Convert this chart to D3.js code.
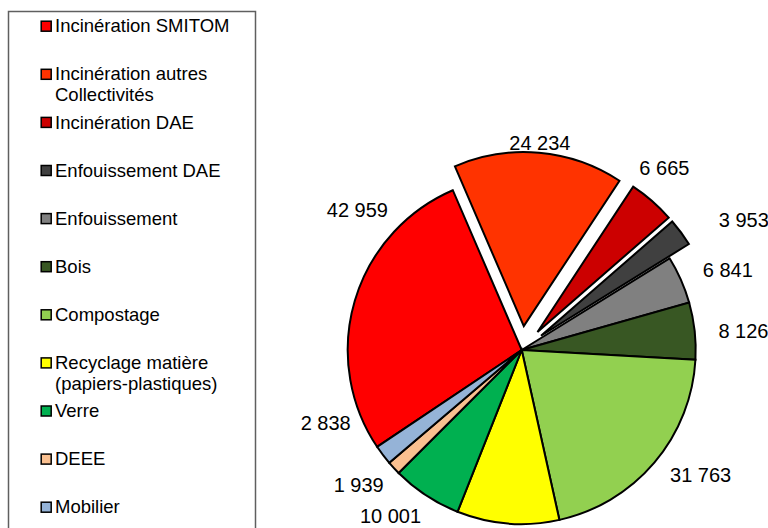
<!DOCTYPE html>
<html>
<head>
<meta charset="utf-8">
<script src="https://cdn.jsdelivr.net/npm/d3@7"></script>
<style>
	body{margin:0;background:#fff}
	text{font-family:"Liberation Sans",Arial,sans-serif;fill:#000}
</style>
</head>
<body>
<svg id="chart" width="768" height="528"></svg>
<script>
let categories = [
	'Incinération SMITOM',
	'Incinération autres\nCollectivités',
	'Incinération DAE',
	'Enfouissement DAE',
	'Enfouissement',
	'Bois',
	'Compostage',
	'Recyclage matière\n(papiers-plastiques)',
	'Verre',
	'DEEE',
	'Mobilier'
]
let values = [42959, 24234, 6665, 3953, 6841, 8126, 31763, 14600, 10001, 1939, 2838]
let colours = ['#FF0000','#FF3300','#CC0000','#404040','#808080','#385723','#92D050','#FFFF00','#00B050','#FAC090','#95B3D7']
let exploded = [1, 2, 3]

// label tweaks (degrees, px) to follow where the labels sit in the original
let labelNudge = [[24,0],[0,-4],[-3,0],[6,19],[2.5,5],[1.4,6],[-5.5,0],[0,0],[5,1],[3,0],[16.6,-7]]

let width = 768, height = 528
let cx = 521.7, cy = 350, radius = 174, explode = 24
let startDeg = 236.2

let fmt = d3.formatLocale({decimal:',', thousands:' ', grouping:[3], currency:['','']}).format(',d')

let svg = d3.select('#chart')

function drawPie(){
	let pie = d3.pie().sort(null).value(function(d){ return d })
		.startAngle(startDeg*Math.PI/180)
		.endAngle((startDeg+360)*Math.PI/180)
	let arcs = pie(values)
	let arc = d3.arc().innerRadius(0).outerRadius(radius)

	let g = svg.append('g').attr('transform','translate('+cx+','+cy+')')

	g.selectAll('path.slice')
		.data(arcs)
		.enter()
		.append('path')
		.attr('class','slice')
		.attr('d',arc)
		.attr('fill',function(d,i){ return colours[i] })
		.attr('stroke','#000')
		.attr('stroke-width',2)
		.attr('stroke-linejoin','miter')
		.attr('transform',function(d,i){
			if(!exploded.includes(i)) return null
			let a = (d.startAngle+d.endAngle)/2
			return 'translate('+(explode*Math.sin(a))+','+(-explode*Math.cos(a))+')'
		})

	g.selectAll('text.lbl')
		.data(arcs)
		.enter()
		.append('text')
		.attr('class','lbl')
		.attr('text-anchor','middle')
		.style('font-size','20px')
		.text(function(d){ return fmt(d.value) })
		.each(function(d,i){
			let w = this.getComputedTextLength()
			let n = labelNudge[i]
			let a = (d.startAngle+d.endAngle)/2 + n[0]*Math.PI/180
			let s = Math.sin(a), c = Math.cos(a)
			let e = exploded.includes(i) ? explode : 0
			let dist = radius + e + 2 + Math.abs(s)*(w/2+15) + Math.abs(c)*8 + n[1]
			let y = -dist*c + 7
			// like the original, a label that falls below the frame is not shown
			if(cy + y - 15 > height){
				d3.select(this).remove()
				return
			}
			d3.select(this).attr('x',dist*s).attr('y',y)
		})
}

function drawLegend(){
	svg.append('rect')
		.attr('x',8.5).attr('y',11.5)
		.attr('width',247).attr('height',540)
		.attr('fill','#fff')
		.attr('stroke','#5f5f5f')
		.attr('stroke-width',1.5)

	let items = svg.selectAll('g.item')
		.data(categories)
		.enter()
		.append('g')
		.attr('class','item')
		.attr('transform',function(d,i){ return 'translate(0,'+(32.3+i*48.1)+')' })

	items.append('rect')
		.attr('x',41.2).attr('y',-11.1)
		.attr('width',10).attr('height',10)
		.attr('fill',function(d,i){ return colours[i] })
		.attr('stroke','#000')
		.attr('stroke-width',1.5)

	items.append('text')
		.attr('x',55)
		.style('font-size','18.5px')
		.selectAll('tspan')
		.data(function(d){ return d.split('\n') })
		.enter()
		.append('tspan')
		.attr('x',55)
		.attr('dy',function(d,i){ return i==0 ? 0 : 20.5 })
		.text(function(d){ return d })
}

drawLegend()
drawPie()
</script>
</body>
</html>
